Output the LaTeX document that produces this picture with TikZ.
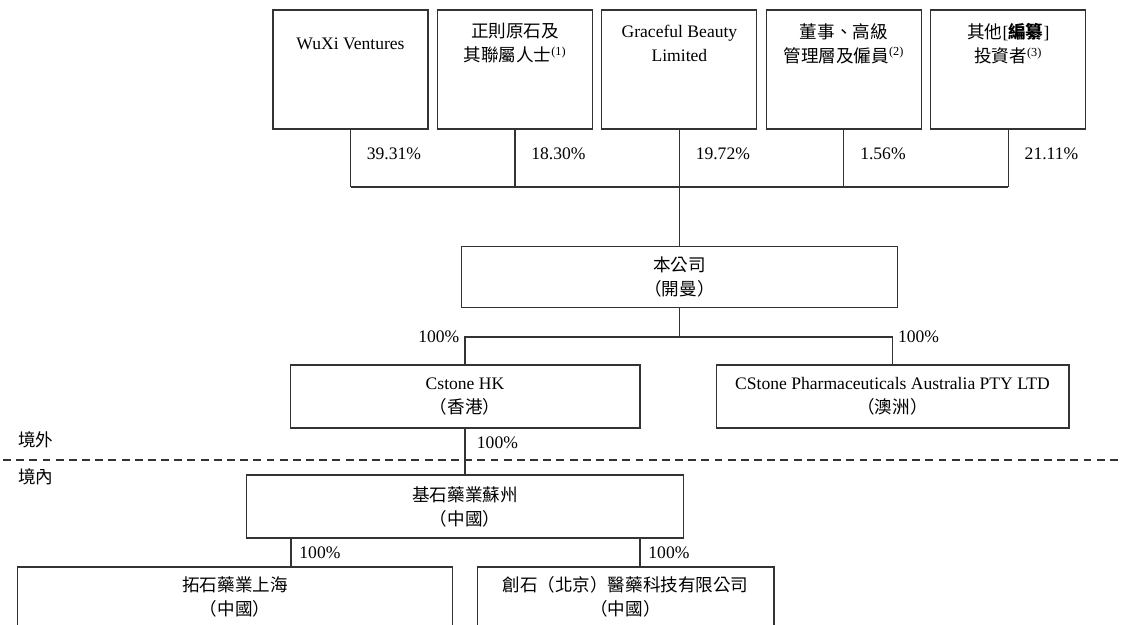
\documentclass[tikz,border=0pt]{standalone}
\usepackage{fontspec}
\setmainfont{Liberation Serif}
\newfontfamily\cjk{Noto Sans CJK TC}
\newcommand{\zh}[1]{{\cjk #1}}
\usetikzlibrary{positioning}
\tikzset{
    on grid,
    node distance=3.29cm,
    holder/.style = {
        draw,
        shape=rectangle,
        minimum height=2.38cm,
        minimum width=3.1cm,
        line width=0.6pt
    },
    holdtext/.style = {
        align=center,
        yshift=-0.68cm
    },
    entity/.style = {
        draw,
        shape=rectangle,
        minimum height=1.22cm,
        align=center,
        line width=0.6pt
    },
    pct/.style = {
        inner sep=3pt
    },
    link/.style = {
        line width=0.6pt
    },
}

\begin{document}
\begin{tikzpicture}[x=0.02cm, y=-0.02cm, draw=black!80,
    font=\fontsize{10}{13.7}\selectfont]
        \clip (0,0) rectangle (1122,625);

        % shareholders
        \node[holder] (inv0) at (350.5,69.5) {};
        \node[holder, right of=inv0] (inv1) {};
        \node[holder, right of=inv1] (inv2) {};
        \node[holder, right of=inv2] (inv3) {};
        \node[holder, right of=inv3] (inv4) {};

        \node[holdtext] (inv0t) at (inv0.north) {WuXi Ventures};
        \node[holdtext] (inv1t) at (inv1.north) {\zh{正則原石及}\\\zh{其聯屬人士}\textsuperscript{(1)}};
        \node[holdtext] (inv2t) at (inv2.north) {Graceful Beauty\\Limited};
        \node[holdtext] (inv3t) at (inv3.north) {\zh{董事、高級}\\\zh{管理層及僱員}\textsuperscript{(2)}};
        \node[holdtext] (inv4t) at (inv4.north) {\zh{其他}[\zh{\bfseries 編纂}]\\\zh{投資者}\textsuperscript{(3)}};

        \coordinate (bus) at (679.5,187);

        \draw[link] (inv0.south) -- node[pct, right, pos=0.43, xshift=6pt] (p0) {39.31\%} (inv0.south |- bus);
        \draw[link] (inv1.south) -- node[pct, right, pos=0.43, xshift=6pt] (p1) {18.30\%} (inv1.south |- bus);
        \draw[link] (inv2.south) -- node[pct, right, pos=0.43, xshift=6pt] (p2) {19.72\%} (inv2.south |- bus);
        \draw[link] (inv3.south) -- node[pct, right, pos=0.43, xshift=6pt] (p3) {1.56\%} (inv3.south |- bus);
        \draw[link] (inv4.south) -- node[pct, right, pos=0.43, xshift=6pt] (p4) {21.11\%} (inv4.south |- bus);
        \draw[link] (inv0.south |- bus) -- (inv4.south |- bus);

        % company and offshore subsidiaries
        \node[entity, minimum width=8.74cm] (co) at (679.5,277) {\zh{本公司}\\\zh{（開曼）}};
        \draw[link] (bus) -- (co);

        \node[entity, minimum width=7cm, minimum height=1.26cm] (hk) at (465,396.5) {Cstone HK\\\zh{（香港）}};
        \node[entity, minimum width=7.06cm, minimum height=1.26cm] (au) at (892.5,396.5) {CStone Pharmaceuticals Australia PTY LTD\\\zh{（澳洲）}};

        \coordinate (sp1) at (679.5,337);
        \draw[link] (co) -- (sp1);
        \draw[link] (hk) |- (sp1) -| (au);
        \node[pct, anchor=east] (p5) at (hk |- sp1) {100\%};
        \node[pct, anchor=west] (p6) at (au |- sp1) {100\%};

        % border line
        \coordinate (dl) at (3,460);
        \coordinate (dr) at (1122,460);
        \draw[link, dash pattern=on 4.5pt off 3pt] (dl) -- (dr);
        \node[anchor=west] (out) at (12,440) {\zh{境外}};
        \node[anchor=west] (in) at (12,477) {\zh{境內}};

        % onshore
        \node[entity, minimum width=8.76cm, minimum height=1.26cm] (jsz) at (465,506.5) {\zh{基石藥業蘇州}\\\zh{（中國）}};
        \draw[link] (hk) -- node[pct, right, pos=0.3, xshift=3.5pt] (p7) {100\%} (jsz);

        \node[entity, minimum width=8.72cm, minimum height=1.2cm] (ts) at (235,597) {\zh{拓石藥業上海}\\\zh{（中國）}};
        \node[entity, minimum width=5.94cm, minimum height=1.2cm] (bj) at (625.5,597) {\zh{創石（北京）醫藥科技有限公司}\\\zh{（中國）}};

        \coordinate (d1) at (291,567);
        \coordinate (d2) at (640,567);
        \draw[link] (jsz.south -| d1) -- node[pct, right, xshift=1.5pt] (p8) {100\%} (d1);
        \draw[link] (jsz.south -| d2) -- node[pct, right, xshift=1.5pt] (p9) {100\%} (d2);

    \end{tikzpicture}
\end{document}
